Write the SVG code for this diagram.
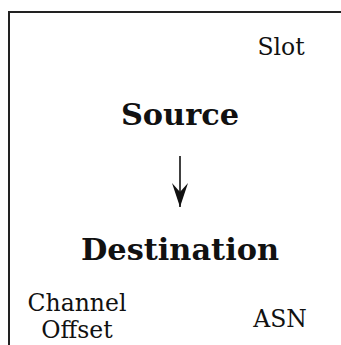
<svg xmlns="http://www.w3.org/2000/svg" width="341" height="345" viewBox="0 0 341 345">
  <style>
    .lbl { font-family: "DejaVu Serif", "Liberation Serif", serif; font-size: 23.5px; fill: #111; text-anchor: middle; }
    .node { font-family: "DejaVu Serif", "Liberation Serif", serif; font-size: 30.4px; font-weight: bold; fill: #111; text-anchor: middle; }
    .edge { stroke: #111; stroke-width: 1.6; fill: none; }
  </style>
  <defs>
    <marker id="arrow" markerUnits="userSpaceOnUse" markerWidth="26" markerHeight="16" refX="24" refY="8" orient="auto" viewBox="0 0 26 16">
      <path d="M24 8 L0 0 L9 8 L0 16 Z" fill="#111"/>
    </marker>
  </defs>
  <rect width="341" height="345" fill="#fff"/>
  <!-- frame, open to the right and bottom -->
  <path d="M9 345 V12 H341" fill="none" stroke="#222" stroke-width="2"/>

  <text class="lbl" x="281" y="55">Slot</text>

  <g id="source">
    <text class="node" x="180" y="125">Source</text>
  </g>
  <g id="destination">
    <text class="node" x="180" y="260">Destination</text>
  </g>

  <g id="connectors">
    <path class="edge" d="M180 156 V207" marker-end="url(#arrow)"/>
  </g>

  <text class="lbl" x="77" y="311">Channel</text>
  <text class="lbl" x="77" y="338">Offset</text>
  <text class="lbl" x="280" y="327">ASN</text>
</svg>
